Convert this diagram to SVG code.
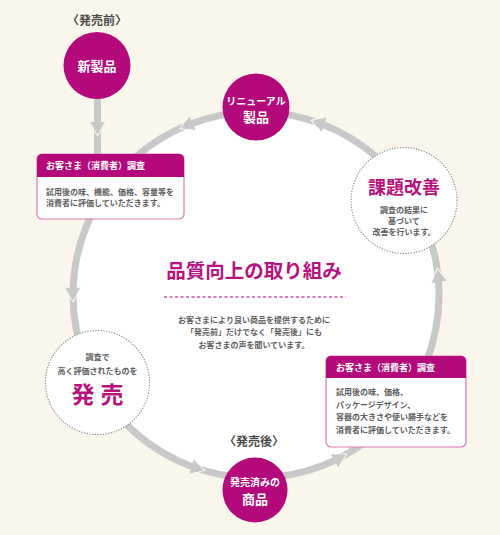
<svg xmlns="http://www.w3.org/2000/svg" width="500" height="535" viewBox="0 0 500 535">
<style>
  text { font-family: "Liberation Sans", "Noto Sans CJK JP", sans-serif; }
  .node { fill: #b4097a; }
  .wt { fill: #ffffff; font-weight: bold; text-anchor: middle; dominant-baseline: central; }
  .hd { fill: #ffffff; font-weight: bold; font-size: 9px; dominant-baseline: central; }
  .body { fill: #5e5e5e; font-size: 8px; font-weight: bold; dominant-baseline: central; }
  .ctr { text-anchor: middle; }
  .mag { fill: #b8127f; font-weight: bold; text-anchor: middle; dominant-baseline: central; }
  .lbl { fill: #4a4a4a; font-weight: bold; font-size: 12px; text-anchor: middle; dominant-baseline: central; }
  .box { fill: #ffffff; stroke: #e07ab6; stroke-width: 1.2; }
  .dot { fill: #ffffff; stroke: #8a8a8a; stroke-width: 1.3; stroke-dasharray: 0.1 2.6; stroke-linecap: round; }
  .ring { fill: #ffffff; stroke: #c8c8c8; stroke-width: 7; }
</style>
<defs>
  <g id="ah">
    <polyline points="-4.1,-3.5 1.6,0 -4.1,3.5" fill="none" stroke="#f7f2e6" stroke-width="1.3"/>
    <polygon points="0,0 -12,-7.5 -12,7.5" fill="#c8c8c8"/>
  </g>
</defs>
<rect x="0" y="0" width="500" height="535" fill="#faf6ec"/>

<g id="connectors">
  <circle class="ring" cx="256" cy="295" r="183"/>
  <use href="#ah" transform="translate(73,300) rotate(88.4)"/>
  <use href="#ah" transform="translate(203,470) rotate(16.8)"/>
  <use href="#ah" transform="translate(345,455) rotate(-29.1)"/>
  <use href="#ah" transform="translate(437.5,270) rotate(-97.8)"/>
  <use href="#ah" transform="translate(312.6,121) rotate(-162)"/>
  <use href="#ah" transform="translate(181.6,128) rotate(156)"/>
  <line x1="97.5" y1="95" x2="97.5" y2="156" stroke="#c8c8c8" stroke-width="7"/>
  <use href="#ah" transform="translate(97.5,134) rotate(90)"/>
</g>

<g id="label-before">
  <text class="lbl" x="97" y="21">〈発売前〉</text>
</g>

<g id="node-new">
  <circle class="node" cx="97" cy="65.5" r="33.5"/>
  <text class="wt" x="97" y="66" font-size="13">新製品</text>
</g>

<g id="node-renewal">
  <circle class="node" cx="256" cy="107" r="33.5"/>
  <text class="wt" x="256" y="101" font-size="10">リニューアル</text>
  <text class="wt" x="256" y="117" font-size="13">製品</text>
</g>

<g id="node-sold">
  <circle class="node" cx="255" cy="490" r="32.5"/>
  <text class="wt" x="255" y="482" font-size="10">発売済みの</text>
  <text class="wt" x="255" y="499" font-size="13">商品</text>
</g>

<g id="label-after">
  <text class="lbl" x="254" y="442">〈発売後〉</text>
</g>

<g id="box-survey-before">
  <rect class="box" x="37" y="154" width="147" height="65" rx="5"/>
  <path class="node" d="M37,177 V159 A5,5 0 0 1 42,154 H179 A5,5 0 0 1 184,159 V177 Z"/>
  <text class="hd" x="46" y="166">お客さま（消費者）調査</text>
  <text class="body" x="46" y="192">試用後の味、機能、価格、容量等を</text>
  <text class="body" x="46" y="203.5">消費者に評価していただきます。</text>
</g>

<g id="box-survey-after">
  <rect class="box" x="326" y="356" width="140" height="91" rx="5"/>
  <path class="node" d="M326,378 V361 A5,5 0 0 1 331,356 H461 A5,5 0 0 1 466,361 V378 Z"/>
  <text class="hd" x="336" y="367.5">お客さま（消費者）調査</text>
  <text class="body" x="336" y="392.5">試用後の味、価格、</text>
  <text class="body" x="336" y="405">パッケージデザイン、</text>
  <text class="body" x="336" y="417.5">容器の大きさや使い勝手などを</text>
  <text class="body" x="336" y="430">消費者に評価していただきます。</text>
</g>

<g id="node-improve">
  <circle class="dot" cx="404" cy="200.5" r="53"/>
  <text class="mag" x="404" y="188" font-size="18">課題改善</text>
  <text class="body ctr" x="404" y="210">調査の結果に</text>
  <text class="body ctr" x="404" y="221">基づいて</text>
  <text class="body ctr" x="404" y="232">改善を行います。</text>
</g>

<g id="node-launch">
  <circle class="dot" cx="97.5" cy="382.5" r="52"/>
  <text class="body ctr" x="97.5" y="357">調査で</text>
  <text class="body ctr" x="97.5" y="371">高く評価されたものを</text>
  <text class="mag" x="100.5" y="395" font-size="23" letter-spacing="6">発売</text>
</g>

<g id="center">
  <text class="mag" x="254" y="271" font-size="19.5">品質向上の取り組み</text>
  <line x1="164" y1="297" x2="346" y2="297" stroke="#d0539f" stroke-width="1.3" stroke-dasharray="3 2.5"/>
  <text class="body ctr" x="254" y="320" font-size="9">お客さまにより良い商品を提供するために</text>
  <text class="body ctr" x="254" y="332.5" font-size="9">「発売前」だけでなく「発売後」にも</text>
  <text class="body ctr" x="254" y="345" font-size="9">お客さまの声を聞いています。</text>
</g>
</svg>
